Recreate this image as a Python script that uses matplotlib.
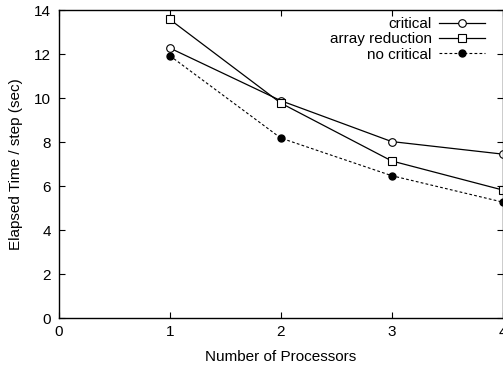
import matplotlib.pyplot as plt

# data
procs = [1, 2, 3, 4]
critical = [12.27, 9.88, 8.02, 7.45]
array_reduction = [13.57, 9.77, 7.14, 5.82]
no_critical = [11.92, 8.18, 6.47, 5.27]

plt.rcParams["font.family"] = ["Liberation Sans", "DejaVu Sans"]
plt.rcParams["font.size"] = 11

fig = plt.figure(figsize=(5.03, 3.69), dpi=100)
ax = fig.add_axes([59 / 503, 1 - 318 / 369, 443.5 / 503, 308 / 369])

ax.plot(procs, critical, color="black", linewidth=0.9, marker="o",
        markersize=5.5, markerfacecolor="white", markeredgewidth=0.8,
        label="critical")
ax.plot(procs, array_reduction, color="black", linewidth=0.9, marker="s",
        markersize=5.3, markerfacecolor="white", markeredgewidth=0.8,
        label="array reduction")
ax.plot(procs, no_critical, color="black", linewidth=0.8, linestyle=(0, (2.5, 2)),
        marker="o", markersize=5, markerfacecolor="black",
        label="no critical")

ax.set_xlim(0, 4)
ax.set_ylim(0, 14)
ax.set_xticks([0, 1, 2, 3, 4])
ax.set_yticks(range(0, 15, 2))
ax.tick_params(direction="in", top=True, right=True, length=4, width=0.8)
ax.tick_params(axis="x", pad=5)
ax.tick_params(axis="y", pad=6)
ax.set_xlabel("Number of Processors", labelpad=8)
ax.set_ylabel("Elapsed Time / step (sec)", labelpad=8)

for s in ax.spines.values():
    s.set_linewidth(1.0)

ax.legend(loc="upper right", bbox_to_anchor=(1 - 5 / 443.5, 1 + 5 / 308),
          frameon=False, markerfirst=False,
          handlelength=3.0, handletextpad=0.5, labelspacing=0.08,
          borderaxespad=0.5, borderpad=0.3, fontsize=11)

plt.savefig("out.png", dpi=100)
